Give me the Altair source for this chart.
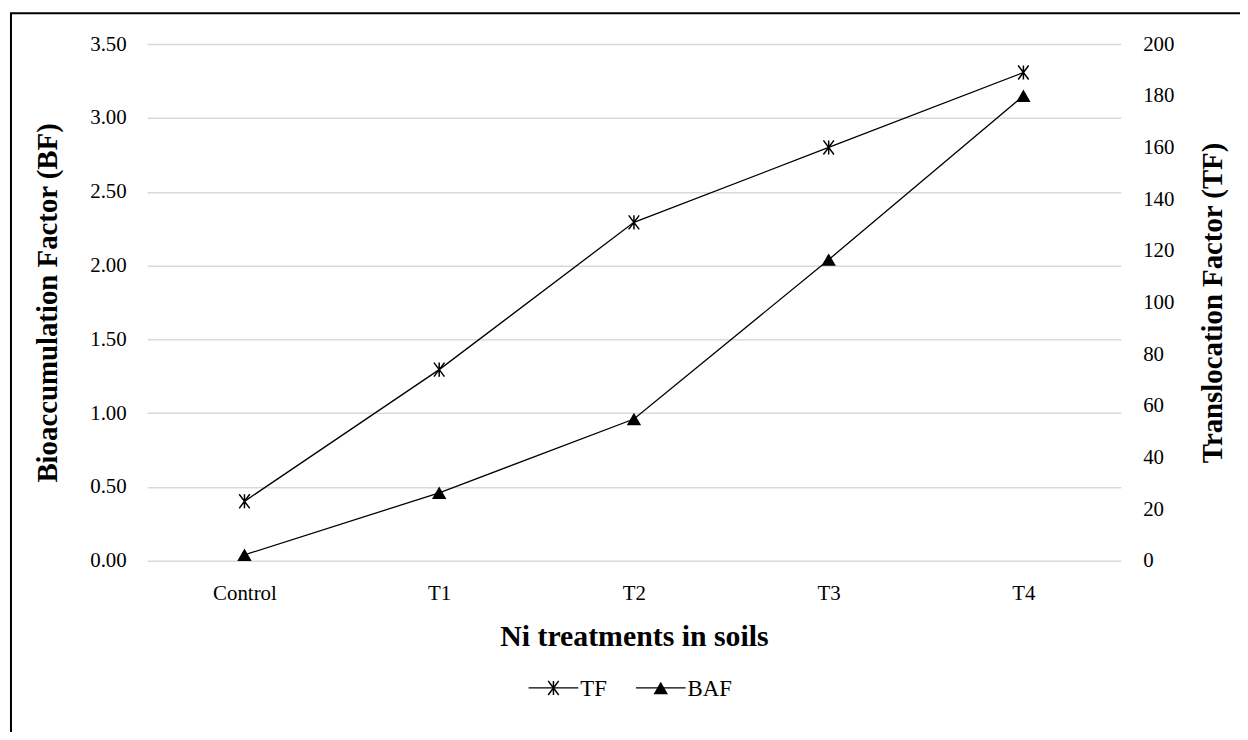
import altair as alt
import pandas as pd

categories = ["Control", "T1", "T2", "T3", "T4"]
baf_values = [0.04, 0.46, 0.96, 2.04, 3.15]
tf_values = [23, 74, 131, 160, 189]
series_names = ["TF", "BAF"]
bf_ticks = [0.0, 0.5, 1.0, 1.5, 2.0, 2.5, 3.0, 3.5]
tf_ticks = [0, 20, 40, 60, 80, 100, 120, 140, 160, 180, 200]

df_baf = pd.DataFrame({"Treatment": categories, "BAF": baf_values})
df_tf = pd.DataFrame({"Treatment": categories, "TF": tf_values})

FONT = "Liberation Serif"
W, H = 980, 520
STAR = "M-0.75,-1L0.75,1M-0.75,1L0.75,-1M0,-1L0,1"

x_enc = alt.X(
    "Treatment:N", sort=categories,
    scale=alt.Scale(type="point", padding=0.5),
    axis=alt.Axis(
        title="Ni treatments in soils", labelAngle=0, labelFontSize=21,
        labelFont=FONT, labelColor="#000000", labelPadding=22,
        domain=False, ticks=False, grid=False,
        titleFont=FONT, titleFontSize=30, titleFontWeight="bold", titleColor="#000000",
        titleX=W / 2, titleY=76, titleBaseline="middle", titleAlign="center",
    ),
)

y_left_scale = alt.Scale(domain=[0, 3.5], nice=False, zero=True)
y_right_scale = alt.Scale(domain=[0, 200], nice=False, zero=True)

y_left = alt.Y(
    "BAF:Q", scale=y_left_scale,
    axis=alt.Axis(
        values=bf_ticks, format=".2f", title="Bioaccumulation Factor (BF)",
        labelFont=FONT, labelFontSize=21, labelColor="#000000", labelPadding=21,
        domain=False, ticks=False, grid=True, gridColor="#d9d9d9", gridWidth=1.5,
        titleFont=FONT, titleFontSize=29, titleFontWeight="bold", titleColor="#000000",
        titleAngle=270, titleX=-100, titleY=H / 2, titleBaseline="middle", titleAlign="center",
    ),
)
y_right = alt.Y(
    "TF:Q", scale=y_right_scale,
    axis=alt.Axis(
        orient="right", values=tf_ticks, format="d", title="Translocation Factor (TF)",
        labelFont=FONT, labelFontSize=21, labelColor="#000000", labelPadding=22,
        domain=False, ticks=False, grid=False,
        titleFont=FONT, titleFontSize=29, titleFontWeight="bold", titleColor="#000000",
        titleAngle=270, titleX=92, titleY=H / 2, titleBaseline="middle", titleAlign="center",
    ),
)

line_baf = alt.Chart(df_baf).mark_line(color="#000000", strokeWidth=1.3).encode(x=x_enc, y=y_left)
pts_baf = alt.Chart(df_baf).mark_point(
    shape="triangle-up", filled=True, size=210, color="#000000", opacity=1
).encode(x=x_enc, y=y_left)

line_tf = alt.Chart(df_tf).mark_line(color="#000000", strokeWidth=1.3).encode(x=x_enc, y=y_right)
pts_tf = alt.Chart(df_tf).mark_point(
    shape=STAR, filled=False, size=200, color="#000000", strokeWidth=1.5, opacity=1
).encode(x=x_enc, y=y_right)

left = alt.layer(line_baf, pts_baf)
right = alt.layer(line_tf, pts_tf)

one = pd.DataFrame({"k": [0]})
border_left = alt.Chart(one).mark_rule(color="#000000", strokeWidth=2).encode(
    x=alt.value(-137), y=alt.value(-31), y2=alt.value(760))
border_top = alt.Chart(one).mark_rule(color="#000000", strokeWidth=2).encode(
    x=alt.value(-138), x2=alt.value(1200), y=alt.value(-31))

LY = 648
leg_tf_df = pd.DataFrame({"label": [series_names[0]]})
leg_baf_df = pd.DataFrame({"label": [series_names[1]]})
leg_tf_line = alt.Chart(leg_tf_df).mark_rule(color="#000000", strokeWidth=1.3).encode(
    x=alt.value(384), x2=alt.value(434), y=alt.value(LY))
leg_tf_pt = alt.Chart(leg_tf_df).mark_point(
    shape=STAR, filled=False, size=200, color="#000000", strokeWidth=1.5, opacity=1
).encode(x=alt.value(409), y=alt.value(LY))
leg_tf_txt = alt.Chart(leg_tf_df).mark_text(
    font=FONT, fontSize=23, align="left", baseline="middle", color="#000000"
).encode(x=alt.value(436), y=alt.value(LY + 1), text="label:N")
leg_baf_line = alt.Chart(leg_baf_df).mark_rule(color="#000000", strokeWidth=1.3).encode(
    x=alt.value(492), x2=alt.value(542), y=alt.value(LY))
leg_baf_pt = alt.Chart(leg_baf_df).mark_point(
    shape="triangle-up", filled=True, size=210, color="#000000", opacity=1
).encode(x=alt.value(517), y=alt.value(LY))
leg_baf_txt = alt.Chart(leg_baf_df).mark_text(
    font=FONT, fontSize=23, align="left", baseline="middle", color="#000000"
).encode(x=alt.value(544), y=alt.value(LY + 1), text="label:N")

chart = alt.layer(
    left, right, border_left, border_top,
    leg_tf_line, leg_tf_pt, leg_tf_txt, leg_baf_line, leg_baf_pt, leg_baf_txt,
).resolve_scale(y="independent").properties(
    width=W, height=H,
    autosize=alt.AutoSizeParams(type="none"),
    padding={"left": 140, "top": 34, "right": 120, "bottom": 170},
    background="#ffffff",
).configure_view(stroke=None)

chart.save("out.html", embed_options={"renderer": "svg", "actions": False})
